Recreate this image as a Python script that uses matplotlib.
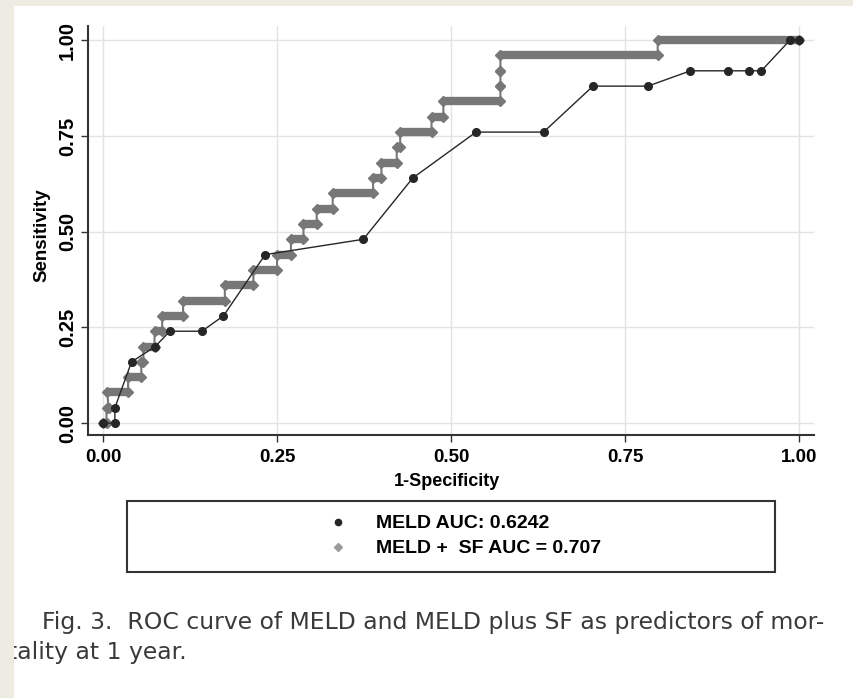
import matplotlib
matplotlib.use("Agg")
import matplotlib.pyplot as plt
from matplotlib.lines import Line2D
from matplotlib.patches import Rectangle

plt.rcParams["font.family"] = ["Liberation Sans", "DejaVu Sans"]

# MELD ROC points (1-specificity, sensitivity)
meld_fpr = [0.0, 0.017, 0.017, 0.041, 0.075, 0.096, 0.142, 0.173, 0.233, 0.374,
            0.445, 0.536, 0.633, 0.704, 0.783, 0.844, 0.898, 0.928, 0.946, 0.987, 1.0]
meld_tpr = [0.0, 0.0, 0.04, 0.16, 0.20, 0.24, 0.24, 0.28, 0.44, 0.48,
            0.64, 0.76, 0.76, 0.88, 0.88, 0.92, 0.92, 0.92, 0.92, 1.0, 1.0]

# MELD + SF: sensitivity levels and the 1-specificity range each one covers
sf_level = [0.00, 0.04, 0.08, 0.12, 0.16, 0.20, 0.24, 0.28, 0.32, 0.36, 0.40, 0.44,
            0.48, 0.52, 0.56, 0.60, 0.64, 0.68, 0.72, 0.76, 0.80, 0.84, 0.88, 0.92,
            0.96, 1.00]
sf_start = [0.000, 0.005, 0.006, 0.036, 0.055, 0.058, 0.074, 0.085, 0.115, 0.175,
            0.216, 0.250, 0.270, 0.288, 0.307, 0.330, 0.388, 0.400, 0.422, 0.427,
            0.472, 0.489, 0.571, 0.571, 0.571, 0.797]
sf_end = [0.005, 0.008, 0.036, 0.055, 0.058, 0.074, 0.085, 0.115, 0.175, 0.216,
          0.250, 0.270, 0.288, 0.307, 0.330, 0.388, 0.400, 0.422, 0.427, 0.472,
          0.489, 0.571, 0.571, 0.571, 0.797, 1.000]

ticks = [0.0, 0.25, 0.5, 0.75, 1.0]
tick_labels = ["0.00", "0.25", "0.50", "0.75", "1.00"]

legend_labels = ["MELD AUC: 0.6242", "MELD +  SF AUC = 0.707"]
caption1 = "Fig. 3.  ROC curve of MELD and MELD plus SF as predictors of mor-"
caption2 = "tality at 1 year."

dark = "#262626"
grey = "#777777"

W, H = 854, 698
fig = plt.figure(figsize=(W / 100, H / 100), dpi=100)
fig.patch.set_facecolor("white")

ax = fig.add_axes([88 / W, 1 - 435 / H, (814 - 88) / W, (435 - 26) / H])
ax.set_xlim(-0.0216, 1.0216)
ax.set_ylim(-0.031, 1.037)

# grey step curve: thick runs + thin risers, diamonds at each corner
sf_x, sf_y = [], []
for lv, a, b in zip(sf_level, sf_start, sf_end):
    sf_x += [a, b]
    sf_y += [lv, lv]
ax.hlines(sf_level, sf_start, sf_end, color=grey, lw=6, zorder=3)
ax.plot(sf_x, sf_y, color=grey, lw=1.5, marker="D", ms=5.5, mec=grey, mfc=grey, zorder=3)

ax.plot(meld_fpr, meld_tpr, color=dark, lw=1.0, marker="o", ms=5.5, mfc=dark, mec=dark, zorder=4)

ax.set_xticks(ticks, labels=tick_labels, fontweight="bold", fontsize=13.5)
ax.set_yticks(ticks, labels=tick_labels, fontweight="bold", fontsize=14.5,
              rotation=90, va="center")
ax.tick_params(direction="out", length=5, width=1.0, color="#333333")
ax.tick_params(axis="x", pad=5)
ax.tick_params(axis="y", pad=3)
ax.grid(True, color="#e3e3e3", lw=1.0)
ax.set_axisbelow(True)
for s in ["top", "right"]:
    ax.spines[s].set_visible(False)
for s in ["left", "bottom"]:
    ax.spines[s].set_color("#333333")
    ax.spines[s].set_linewidth(1.5)

ax.set_xlabel("1-Specificity", fontweight="bold", fontsize=13, va="center")
ax.xaxis.set_label_coords((447 - 88) / 726, (435 - 482) / 409)
ax.set_ylabel("Sensitivity", fontweight="bold", fontsize=13.5, va="center")
ax.yaxis.set_label_coords((42 - 88) / 726, (435 - 235) / 409)

# legend box below the plot
fig.add_artist(Rectangle((127 / W, 1 - 572 / H), (775 - 127) / W, (572 - 501) / H,
                         transform=fig.transFigure, fill=False, ec="#333333", lw=1.5))
handles = [Line2D([], [], ls="none", marker="o", ms=4.5, color=dark),
           Line2D([], [], ls="none", marker="D", ms=4.5, color="#9a9a9a")]
fig.legend(handles, legend_labels, loc="center left",
           bbox_to_anchor=(328 / W, 1 - 536 / H), frameon=False,
           prop={"weight": "bold", "size": 14}, handlelength=1.0,
           handletextpad=1.45, labelspacing=0.38, borderpad=0, borderaxespad=0)

cap_font = {"family": ["DejaVu Sans"], "size": 16.9, "color": "#3a3a3a"}
fig.text(42 / W, 1 - 629 / H, caption1, va="baseline", **cap_font)
fig.text(8 / W, 1 - 659 / H, caption2, va="baseline", **cap_font)

# beige page margins
fig.add_artist(Rectangle((0, 1 - 6 / H), 1, 6 / H, transform=fig.transFigure,
                         color="#edebe2", lw=0, zorder=10))
fig.add_artist(Rectangle((0, 0), 14 / W, 1, transform=fig.transFigure,
                         color="#edebe2", lw=0, zorder=10))

fig.savefig("out.png", dpi=100)
